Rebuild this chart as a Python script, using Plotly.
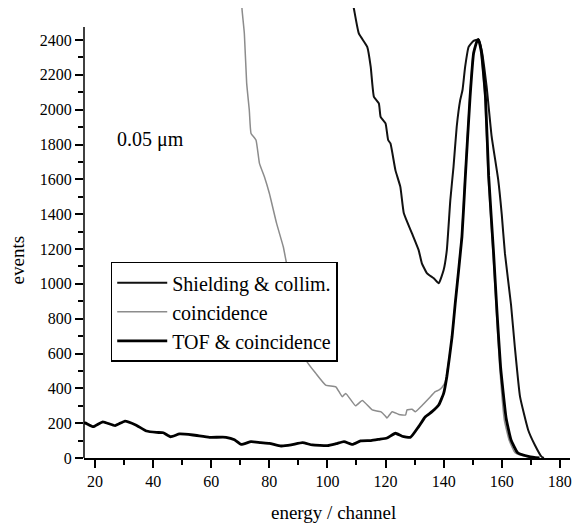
import plotly.graph_objects as go

# ---- data ----
shield_x = [107.7, 109.1, 110.8, 113.7, 114.9, 116.0, 117.7, 118.3, 120.0, 120.9, 121.7, 123.4,
            125.1, 126.3, 129.1, 131.4, 132.5, 134.3, 136.6, 138.3, 140.0, 141.1, 142.3, 143.4,
            144.5, 145.7, 146.5, 147.4, 148.6, 150.3, 152.0, 153.1, 154.8, 156.5, 158.8, 160.0,
            161.1, 163.2, 164.5, 166.3, 169.1, 171.4, 173.7, 174.5]
shield_y = [2700, 2581, 2438, 2361, 2246, 2074, 2036, 1959, 1921, 1826, 1806, 1653,
            1557, 1405, 1290, 1194, 1118, 1060, 1032, 1003, 1079, 1194, 1481, 1672,
            1902, 2055, 2113, 2246, 2361, 2395, 2403, 2342, 2132, 1850, 1596, 1400,
            1175, 880, 639, 352, 161, 75, 8, 0]

coinc_x = [70.3, 70.6, 71.4, 72.2, 73.1, 73.7, 75.4, 76.6, 78.3, 80.0, 82.5, 84.8, 85.7,
           92.6, 96.0, 99.4, 102.9, 105.1, 106.3, 109.7, 112.0, 115.4, 118.3, 120.0, 120.5,
           122.3, 124.6, 126.9, 127.4, 129.1, 130.3, 132.5, 134.8, 137.1, 138.3, 139.4, 140.6,
           142.9, 144.0, 146.2, 147.3, 149.0, 150.2, 151.3, 152.0, 152.8, 154.2, 155.3, 157.0,
           158.2, 159.3, 160.9, 162.6, 164.6, 168.5, 172.5]
coinc_y = [2700, 2576, 2438, 2151, 1998, 1864, 1826, 1692, 1615, 1520, 1347, 1213, 1137,
           563, 486, 419, 409, 352, 371, 300, 330, 276, 266, 240, 230,
           266, 250, 247, 276, 280, 266, 300, 340, 381, 390, 405, 440,
           696, 889, 1270, 1596, 2074, 2323, 2390, 2400, 2340, 2074, 1620, 1175,
           830, 524, 218, 100, 30, 8, 0]

tof_x = [16.2, 16.6, 19.4, 22.7, 26.9, 30.3, 34.0, 37.7, 41.2, 43.5, 46.0, 49.1, 53.7, 59.4,
         65.1, 68.0, 70.3, 73.7, 77.0, 80.0, 84.0, 87.5, 91.4, 94.8, 100.0, 103.0, 105.7,
         108.6, 111.4, 115.0, 117.7, 120.5, 123.4, 125.7, 128.6, 131.4, 133.7, 136.0, 138.3,
         140.0, 141.1, 142.9, 144.0, 146.3, 147.4, 149.1, 150.3, 151.4, 152.0, 153.0, 154.4,
         155.5, 157.2, 158.4, 159.6, 161.5, 163.2, 165.5, 169.5, 173.0]
tof_y = [200, 201, 180, 208, 186, 212, 190, 155, 147, 145, 122, 138, 132, 119,
         119, 105, 78, 94, 88, 84, 69, 75, 88, 75, 71, 82, 94,
         78, 98, 100, 107, 115, 142, 125, 119, 180, 237, 266, 304,
         371, 467, 696, 889, 1270, 1596, 2074, 2323, 2390, 2403, 2330, 2074,
         1620, 1175, 830, 524, 230, 103, 30, 8, 0]

x_ticks = [20, 40, 60, 80, 100, 120, 140, 160, 180]
x_minor = [30, 50, 70, 90, 110, 130, 150, 170]
y_ticks = [0, 200, 400, 600, 800, 1000, 1200, 1400, 1600, 1800, 2000, 2200, 2400]
y_minor = [100, 300, 500, 700, 900, 1100, 1300, 1500, 1700, 1900, 2100, 2300]

FONT = "'Liberation Serif', 'DejaVu Serif', serif"

fig = go.Figure()
fig.add_trace(go.Scatter(x=shield_x, y=shield_y, mode="lines", name="Shielding & collim.",
                         line=dict(color="#111111", width=2, shape="spline", smoothing=0.4)))
fig.add_trace(go.Scatter(x=coinc_x, y=coinc_y, mode="lines", name="coincidence",
                         line=dict(color="#8c8c8c", width=1.5, shape="spline", smoothing=0.4)))
fig.add_trace(go.Scatter(x=tof_x, y=tof_y, mode="lines", name="TOF & coincidence",
                         line=dict(color="#000000", width=2.8, shape="spline", smoothing=0.4)))

fig.update_layout(
    width=574, height=525,
    margin=dict(l=84, r=2, t=8, b=67),
    paper_bgcolor="white", plot_bgcolor="white",
    font=dict(family=FONT, color="black", size=16),
    showlegend=True,
    legend=dict(x=0.055, y=0.436, xanchor="left", yanchor="top",
                bgcolor="white", bordercolor="black", borderwidth=1.5,
                font=dict(family=FONT, size=20, color="black"),
                tracegroupgap=0, itemwidth=50, entrywidth=240),
    xaxis=dict(range=[16.2, 183.5], tickvals=x_ticks, ticks="outside", ticklen=8,
               tickwidth=1.5, tickcolor="black", showline=True, linewidth=1.5,
               linecolor="black", showgrid=False, zeroline=False,
               tickfont=dict(family=FONT, size=16, color="black"),
               minor=dict(tickvals=x_minor, ticks="outside", ticklen=5, tickwidth=1.5,
                          tickcolor="black", showgrid=False)),
    yaxis=dict(range=[0, 2584], tickvals=y_ticks, ticks="outside", ticklen=8,
               tickwidth=1.5, tickcolor="black", showline=False, showgrid=False,
               zeroline=False, tickfont=dict(family=FONT, size=16, color="black"),
               minor=dict(tickvals=y_minor, ticks="outside", ticklen=5, tickwidth=1.5,
                          tickcolor="black", showgrid=False)),
)

# y axis line stops a little above the last tick, as in the reference
fig.add_shape(type="line", xref="paper", yref="y", x0=0, x1=0, y0=0, y1=2475,
              line=dict(color="black", width=1.5))

fig.add_annotation(text="energy / channel", xref="paper", yref="paper",
                   x=0.514, y=-0.122, xanchor="center", yanchor="middle",
                   showarrow=False, font=dict(family=FONT, size=19, color="black"))
fig.add_annotation(text="events", xref="paper", yref="paper", textangle=-90,
                   x=-0.137, y=0.44, xanchor="center", yanchor="middle",
                   showarrow=False, font=dict(family=FONT, size=19, color="black"))
fig.add_annotation(text="0.05 \u03bcm", xref="paper", yref="paper",
                   x=0.137, y=0.707, xanchor="center", yanchor="middle",
                   showarrow=False, font=dict(family=FONT, size=20, color="black"))

fig.write_html("out.html", config={"displayModeBar": False},
               post_script="document.body.style.margin='0';document.body.style.overflow='hidden';")
